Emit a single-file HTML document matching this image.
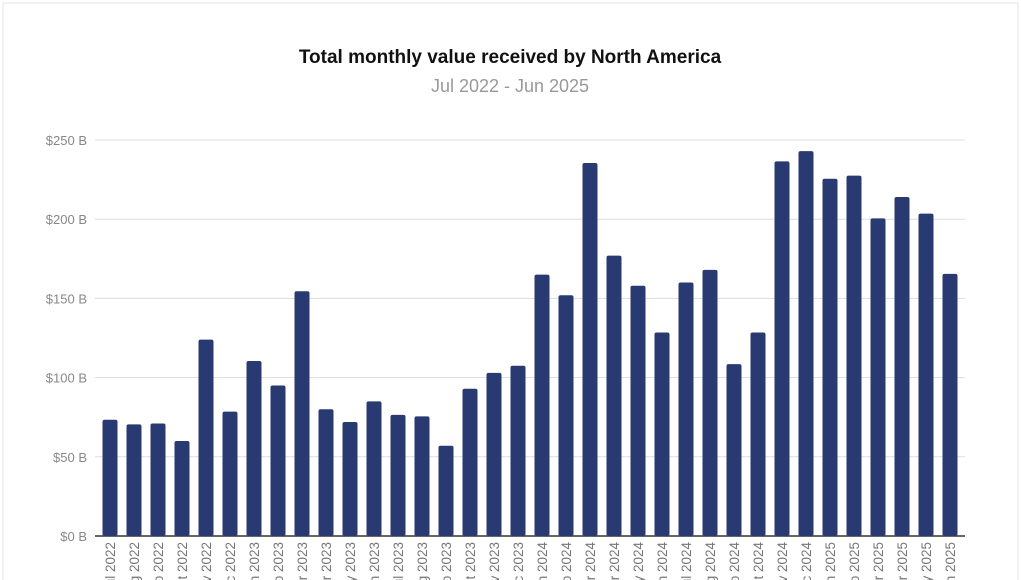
<!DOCTYPE html>
<html><head><meta charset="utf-8"><style>
body{margin:0;background:#fff;font-family:"Liberation Sans",sans-serif;}
svg{display:block}
</style></head><body>
<svg width="1021" height="580">
<rect x="3" y="3" width="1015" height="590" fill="#fff" stroke="#e4e4e4"/>
<text x="510" y="63" text-anchor="middle" font-size="19" font-weight="bold" fill="#111">Total monthly value received by North America</text>
<text x="510" y="92" text-anchor="middle" font-size="18" fill="#999">Jul 2022 - Jun 2025</text>
<g id="grid"></g><g id="bars"></g><g id="xl"></g>
</svg>
<script>
const categories=["Jul 2022","Aug 2022","Sep 2022","Oct 2022","Nov 2022","Dec 2022","Jan 2023","Feb 2023","Mar 2023","Apr 2023","May 2023","Jun 2023","Jul 2023","Aug 2023","Sep 2023","Oct 2023","Nov 2023","Dec 2023","Jan 2024","Feb 2024","Mar 2024","Apr 2024","May 2024","Jun 2024","Jul 2024","Aug 2024","Sep 2024","Oct 2024","Nov 2024","Dec 2024","Jan 2025","Feb 2025","Mar 2025","Apr 2025","May 2025","Jun 2025"];
const values=[73.4,70.5,71,60,124,78.5,110.5,95,154.5,80,72,85,76.5,75.5,57,93,103,107.5,165,152,235.5,177,158,128.5,160,168,108.5,128.5,236.5,243,225.5,227.5,200.5,214,203.5,165.5];
const ticks=[0,50,100,150,200,250];
const NS="http://www.w3.org/2000/svg";
const gx0=95,gx1=965,x0=98,x1=962,y0=536,yTop=140,vMax=250;
const y=v=>y0-(v/vMax)*(y0-yTop);
const step=(x1-x0)/categories.length;
const xc=i=>x0+step*(i+0.5);
function mk(t,a,p){const e=document.createElementNS(NS,t);for(const k in a)e.setAttribute(k,a[k]);p.appendChild(e);return e;}
const g=document.getElementById('grid'),b=document.getElementById('bars'),xl=document.getElementById('xl');
ticks.forEach(t=>{
 const l=mk('line',{x1:gx0,x2:gx1,y1:y(t),y2:y(t),stroke:t===0?'#666':'#ddd','stroke-width':t===0?2:1},g);
 
 
 const tx=mk('text',{x:87,y:y(t)+5,'text-anchor':'end','font-size':13,fill:'#888'},g);
 tx.textContent='$'+t+' B';
 
 
});
values.forEach((v,i)=>{
 const r=mk('rect',{x:xc(i)-7.5,y:y(v),width:15,height:y0-y(v),rx:2,fill:'#293a72'},b);
 
 
 const t=mk('text',{transform:`translate(${xc(i)+5},542) rotate(-90)`,'text-anchor':'end','font-size':13.5,fill:'#777'},xl);
 t.textContent=categories[i];
 
 
});
</script>
</body></html>
